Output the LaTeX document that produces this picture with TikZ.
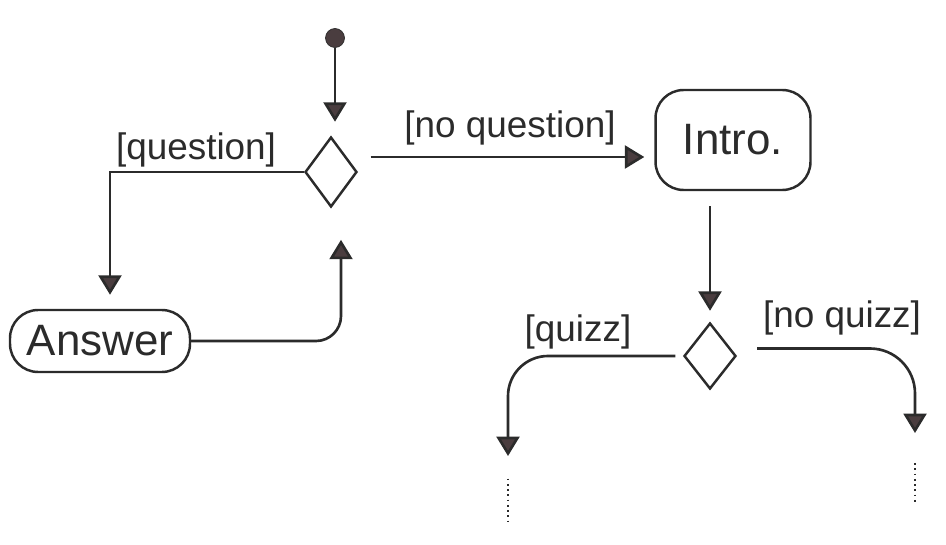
\documentclass[tikz,border=0pt]{standalone}
\usepackage{fontspec}
\setmainfont{Liberation Sans}
\usetikzlibrary{shapes.geometric,arrows.meta}
\definecolor{ink}{HTML}{2B2B2B}
\definecolor{tip}{HTML}{4A3D3F}
\begin{document}
\begin{tikzpicture}[x=0.02cm,y=-0.02cm]
\tikzstyle{every node}+=[inner sep=0pt]
\tikzstyle{box}=[draw=ink, text=ink, line width=1.4pt, rounded corners=16pt, font=\fontsize{25}{30}\selectfont]
\tikzstyle{choice}=[draw=ink, diamond, line width=1.4pt, minimum width=1.04cm, minimum height=1.4cm]
\tikzstyle{flow}=[draw=ink, line width=1.5pt, -{Triangle[width=13pt,length=11pt,fill=tip]}]
\tikzstyle{guard}=[font=\fontsize{21}{25}\selectfont, text=ink]
\useasboundingbox (0,0) rectangle (946,544);
\node[circle, fill=tip, draw=ink, minimum size=0.38cm] (start) at (335,38) {};
\node[choice] (dec1) at (331,172) {};
\node[box, minimum width=3.6cm, minimum height=1.24cm] (answer) at (100,341) {Answer};
\node[box, minimum width=3.1cm, minimum height=2cm] (intro) at (733,140) {Intro.};
\node[choice, minimum height=1.32cm] (dec2) at (710,356) {};
\coordinate (quizzend) at (508,456);
\coordinate (noquizzend) at (915,433);
\node[guard] (lquestion) at (196,150) {[question]};
\node[guard] (lnoquestion) at (510,128) {[no question]};
\node[guard] (lquizz) at (578,332) {[quizz]};
\node[guard] (lnoquizz) at (842,318) {[no quizz]};
\draw[flow, shorten >=8pt] (start) -- (start |- dec1.north);
\draw[flow, shorten >=8pt] (dec1.west) -| ([xshift=0.2cm]answer.north);
\draw[flow, rounded corners=0.5cm, shorten >=18pt] (answer.east) -| ([xshift=0.2cm]dec1.south);
\draw[flow, shorten <=0.25cm, shorten >=0.2cm] ([yshift=0.3cm]dec1.east) -- ([yshift=0.3cm]dec1.east -| intro.west);
\draw[flow, shorten <=0.3cm, shorten >=0.22cm] (intro.south -| dec2.north) -- (dec2.north);
\draw[flow, rounded corners=0.8cm, shorten <=0.15cm] (dec2.west) -| (quizzend);
\draw[flow, rounded corners=0.9cm, shorten <=0.4cm] ([yshift=0.15cm]dec2.east) -| (noquizzend);
\draw[ink, dotted, line width=1pt] ([yshift=-0.45cm]quizzend) -- ++(0,45);
\draw[ink, dotted, line width=1pt] ([yshift=-0.6cm]noquizzend) -- ++(0,40);
\end{tikzpicture}
\end{document}
